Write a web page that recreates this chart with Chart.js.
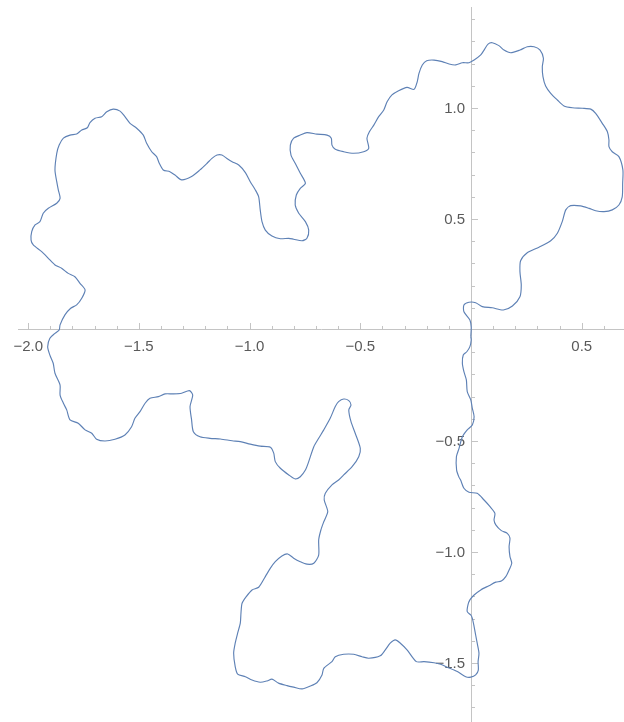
<!DOCTYPE html>
<html>
<head>
<meta charset="utf-8">
<script src="https://cdn.jsdelivr.net/npm/chart.js@4/dist/chart.umd.min.js"></script>
<style>
  html, body { margin: 0; padding: 0; background: #fff; }
  #wrap { width: 624px; height: 722px; position: relative; }
</style>
</head>
<body>
<div id="wrap"><canvas id="myChart"></canvas></div>
<script>
'use strict'

// Curve points (x, y in plot units), in drawing order
let curveX = [
  -0.001, 0.001, -0.005, -0.032, -0.032, -0.009, 0.021, 0.051, 0.096, 0.146,
  0.187, 0.221, 0.227, 0.221, 0.224, 0.254, 0.307, 0.360, 0.390, 0.412,
  0.428, 0.450, 0.495, 0.533, 0.563, 0.601, 0.638, 0.668, 0.683, 0.685,
  0.686, 0.668, 0.638, 0.623, 0.623, 0.616, 0.593, 0.563, 0.541, 0.503,
  0.458, 0.420, 0.390, 0.360, 0.337, 0.325, 0.322, 0.327, 0.312, 0.285,
  0.254, 0.221, 0.179, 0.149, 0.126, 0.096, 0.077, 0.059, 0.044, 0.014,
  -0.009, -0.039, -0.069, -0.099, -0.130, -0.167, -0.200, -0.220, -0.235, -0.243,
  -0.257, -0.289, -0.327, -0.357, -0.379, -0.394, -0.417, -0.439, -0.459, -0.470,
  -0.462, -0.485, -0.530, -0.575, -0.613, -0.628, -0.631, -0.650, -0.696, -0.741,
  -0.771, -0.801, -0.816, -0.813, -0.794, -0.771, -0.748, -0.771, -0.789, -0.794,
  -0.778, -0.748, -0.733, -0.741, -0.763, -0.801, -0.823, -0.861, -0.899, -0.929,
  -0.944, -0.952, -0.959, -0.974, -0.997, -1.019, -1.049, -1.079, -1.099, -1.125,
  -1.147, -1.170, -1.192, -1.224, -1.262, -1.307, -1.337, -1.360, -1.390, -1.408,
  -1.420, -1.442, -1.465, -1.480, -1.510, -1.540, -1.563, -1.585, -1.616, -1.645,
  -1.668, -1.698, -1.721, -1.733, -1.758, -1.781, -1.811, -1.841, -1.860, -1.871,
  -1.879, -1.871, -1.864, -1.856, -1.871, -1.909, -1.932, -1.947, -1.969, -1.984,
  -1.987, -1.977, -1.939, -1.909, -1.879, -1.849, -1.819, -1.789, -1.766, -1.743,
  -1.758, -1.781, -1.808, -1.834, -1.856, -1.860, -1.879, -1.902, -1.912, -1.902,
  -1.887, -1.879, -1.856, -1.856, -1.841, -1.826, -1.811, -1.774, -1.743, -1.713,
  -1.691, -1.653, -1.608, -1.563, -1.533, -1.518, -1.495, -1.472, -1.450, -1.412,
  -1.382, -1.345, -1.307, -1.272, -1.257, -1.269, -1.262, -1.254, -1.224, -1.179,
  -1.132, -1.079, -1.042, -0.997, -0.952, -0.906, -0.891, -0.884, -0.861, -0.823,
  -0.794, -0.771, -0.748, -0.733, -0.710, -0.688, -0.665, -0.636, -0.613, -0.598,
  -0.575, -0.552, -0.542, -0.552, -0.542, -0.523, -0.500, -0.507, -0.537, -0.575,
  -0.598, -0.628, -0.658, -0.663, -0.647, -0.665, -0.678, -0.688, -0.688, -0.710,
  -0.741, -0.771, -0.801, -0.828, -0.854, -0.884, -0.906, -0.929, -0.959, -0.989,
  -1.015, -1.034, -1.039, -1.042, -1.054, -1.065, -1.072, -1.065, -1.054, -1.019,
  -0.989, -0.952, -0.921, -0.899, -0.869, -0.831, -0.801, -0.763, -0.726, -0.696,
  -0.673, -0.665, -0.628, -0.613, -0.575, -0.530, -0.492, -0.462, -0.410, -0.387,
  -0.365, -0.342, -0.319, -0.289, -0.247, -0.212, -0.167, -0.137, -0.107, -0.062,
  -0.024, -0.001, 0.021, 0.033, 0.032, 0.036, 0.028, 0.021, 0.014, 0.006,
  -0.001, -0.017, -0.014, -0.005, 0.014, 0.044, 0.081, 0.112, 0.137, 0.157,
  0.172, 0.184, 0.176, 0.172, 0.176, 0.164, 0.137, 0.112, 0.104, 0.108,
  0.086, 0.059, 0.028, -0.009, -0.032, -0.047, -0.054, -0.065, -0.066, -0.054,
  -0.039, -0.017, 0.006, 0.014, 0.006, -0.001, -0.017, -0.021, -0.032, -0.039,
  -0.035, -0.019, -0.005, 0.001
];

let curveY = [
  -0.030, 0.012, 0.045, 0.082, 0.113, 0.125, 0.123, 0.105, 0.100, 0.090,
  0.108, 0.150, 0.203, 0.263, 0.312, 0.348, 0.373, 0.402, 0.436, 0.488,
  0.541, 0.560, 0.559, 0.548, 0.537, 0.533, 0.541, 0.563, 0.600, 0.661,
  0.721, 0.781, 0.803, 0.826, 0.856, 0.893, 0.931, 0.976, 0.995, 0.999,
  1.001, 1.009, 1.036, 1.066, 1.099, 1.141, 1.186, 1.224, 1.261, 1.276,
  1.276, 1.261, 1.249, 1.261, 1.281, 1.294, 1.288, 1.261, 1.239, 1.216,
  1.204, 1.204, 1.194, 1.198, 1.209, 1.216, 1.213, 1.194, 1.156, 1.118,
  1.084, 1.093, 1.078, 1.059, 1.028, 0.991, 0.961, 0.923, 0.893, 0.864,
  0.818, 0.803, 0.796, 0.803, 0.814, 0.833, 0.864, 0.878, 0.882, 0.889,
  0.878, 0.864, 0.833, 0.788, 0.751, 0.706, 0.661, 0.638, 0.608, 0.563,
  0.526, 0.488, 0.450, 0.413, 0.402, 0.409, 0.413, 0.411, 0.423, 0.450,
  0.488, 0.541, 0.600, 0.631, 0.668, 0.709, 0.743, 0.758, 0.770, 0.788,
  0.788, 0.773, 0.751, 0.721, 0.691, 0.676, 0.698, 0.713, 0.721, 0.751,
  0.781, 0.803, 0.841, 0.878, 0.909, 0.931, 0.961, 0.986, 0.995, 0.983,
  0.961, 0.954, 0.934, 0.911, 0.901, 0.883, 0.878, 0.864, 0.833, 0.796,
  0.721, 0.668, 0.631, 0.593, 0.571, 0.548, 0.526, 0.488, 0.473, 0.443,
  0.405, 0.383, 0.353, 0.323, 0.293, 0.278, 0.255, 0.240, 0.210, 0.180,
  0.143, 0.113, 0.098, 0.068, 0.023, 0.000, -0.015, -0.037, -0.075, -0.113,
  -0.150, -0.195, -0.248, -0.293, -0.330, -0.360, -0.405, -0.420, -0.450, -0.465,
  -0.492, -0.500, -0.492, -0.473, -0.436, -0.398, -0.368, -0.330, -0.308, -0.300,
  -0.288, -0.288, -0.285, -0.273, -0.293, -0.345, -0.405, -0.458, -0.481, -0.488,
  -0.491, -0.499, -0.503, -0.514, -0.523, -0.528, -0.555, -0.593, -0.623, -0.653,
  -0.671, -0.661, -0.631, -0.593, -0.526, -0.488, -0.450, -0.398, -0.345, -0.323,
  -0.311, -0.318, -0.338, -0.360, -0.413, -0.465, -0.533, -0.571, -0.616, -0.653,
  -0.676, -0.698, -0.736, -0.766, -0.818, -0.864, -0.901, -0.946, -1.014, -1.051,
  -1.055, -1.044, -1.028, -1.009, -1.018, -1.044, -1.073, -1.111, -1.159, -1.171,
  -1.201, -1.231, -1.276, -1.321, -1.366, -1.411, -1.456, -1.517, -1.550, -1.562,
  -1.577, -1.587, -1.581, -1.573, -1.591, -1.602, -1.609, -1.617, -1.604, -1.589,
  -1.554, -1.524, -1.494, -1.472, -1.461, -1.461, -1.472, -1.479, -1.468, -1.441,
  -1.411, -1.396, -1.411, -1.441, -1.494, -1.494, -1.499, -1.506, -1.519, -1.539,
  -1.562, -1.564, -1.554, -1.532, -1.494, -1.456, -1.411, -1.374, -1.336, -1.299,
  -1.284, -1.269, -1.239, -1.216, -1.194, -1.171, -1.152, -1.136, -1.131, -1.111,
  -1.081, -1.051, -1.021, -0.976, -0.938, -0.916, -0.904, -0.878, -0.856, -0.826,
  -0.796, -0.766, -0.736, -0.731, -0.713, -0.676, -0.664, -0.631, -0.571, -0.533,
  -0.481, -0.450, -0.428, -0.391, -0.353, -0.315, -0.278, -0.225, -0.188, -0.150,
  -0.113, -0.098, -0.075, -0.045
];

// Tick labels
let xTickValues = [-2.0, -1.5, -1.0, -0.5, 0.5];
let xTickLabels = ['\u22122.0', '\u22121.5', '\u22121.0', '\u22120.5', '0.5'];
let yTickValues = [1.0, 0.5, -0.5, -1.0, -1.5];
let yTickLabels = ['1.0', '0.5', '\u22120.5', '\u22121.0', '\u22121.5'];

const axisColor = '#c4c4c4';
const labelColor = '#5a5a5a';
const labelFont = '15px "Liberation Sans", Arial, sans-serif';

// build the closed path
let points = [];
for (let i = 0; i < curveX.length; i++) {
  points.push({ x: curveX[i], y: curveY[i] });
}
points.push({ x: curveX[0], y: curveY[0] });

// minor / major tick marks and y labels, Mathematica style
const axisTicks = {
  id: 'axisTicks',
  beforeDatasetsDraw(chart) {
    const ctx = chart.ctx;
    const xs = chart.scales.x;
    const ys = chart.scales.y;
    const x0 = xs.getPixelForValue(0);
    const y0 = ys.getPixelForValue(0);
    ctx.save();
    ctx.strokeStyle = axisColor;
    ctx.lineWidth = 1;
    ctx.beginPath();
    for (let i = -20; i <= 6; i++) {
      if (i === 0) continue;
      let px = Math.round(xs.getPixelForValue(i / 10)) + 0.5;
      let len = (i % 5 === 0) ? 7 : 4;
      ctx.moveTo(px, y0);
      ctx.lineTo(px, y0 - len);
    }
    for (let i = -17; i <= 14; i++) {
      if (i === 0) continue;
      let py = Math.round(ys.getPixelForValue(i / 10)) + 0.5;
      let len = (i % 5 === 0) ? 7 : 4;
      ctx.moveTo(x0, py);
      ctx.lineTo(x0 + len, py);
    }
    ctx.stroke();

    ctx.fillStyle = labelColor;
    ctx.font = labelFont;
    ctx.textAlign = 'right';
    ctx.textBaseline = 'middle';
    for (let i = 0; i < yTickValues.length; i++) {
      ctx.fillText(yTickLabels[i], x0 - 6, ys.getPixelForValue(yTickValues[i]) + 1);
    }
    ctx.restore();
  }
};

const config = {
  type: 'scatter',
  data: {
    datasets: [{
      data: points,
      showLine: true,
      borderColor: '#5e81b5',
      borderWidth: 1.15,
      pointRadius: 0,
      tension: 0.25,
      fill: false
    }]
  },
  options: {
    responsive: true,
    maintainAspectRatio: false,
    animation: false,
    events: [],
    layout: { padding: { left: 18, top: 7, right: 0, bottom: 0 } },
    plugins: {
      legend: { display: false },
      tooltip: { enabled: false }
    },
    scales: {
      x: {
        type: 'linear',
        position: { y: 0 },
        min: -2.046,
        max: 0.691,
        afterBuildTicks: (scale) => {
          scale.ticks = xTickValues.map(v => ({ value: v }));
        },
        ticks: {
          autoSkip: false,
          maxRotation: 0,
          padding: 8,
          color: labelColor,
          font: { family: '"Liberation Sans", Arial, sans-serif', size: 15 },
          callback: (value, index) => xTickLabels[index]
        },
        grid: { drawOnChartArea: false, drawTicks: false },
        border: { display: true, color: axisColor, width: 1 }
      },
      y: {
        type: 'linear',
        position: { x: 0 },
        min: -1.766,
        max: 1.455,
        ticks: { display: false },
        grid: { drawOnChartArea: false, drawTicks: false },
        border: { display: true, color: axisColor, width: 1 }
      }
    }
  },
  plugins: [axisTicks]
};

const myChart = new Chart(document.getElementById('myChart'), config);
</script>
</body>
</html>
